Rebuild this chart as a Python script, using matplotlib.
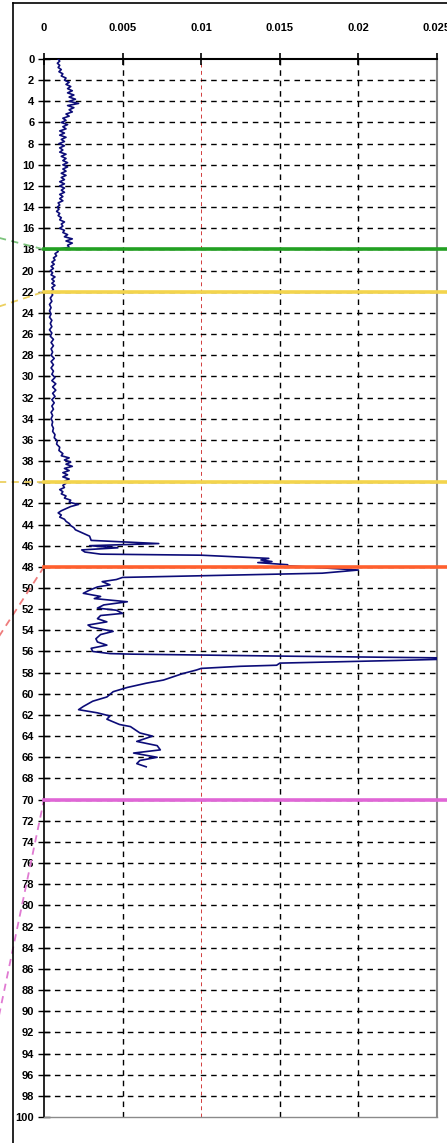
import matplotlib
matplotlib.use("Agg")
import matplotlib.pyplot as plt
from matplotlib.lines import Line2D
from matplotlib.transforms import blended_transform_factory

# depth (y) and value (x, in units of 1e-3) of the log curve
depth = [0.0, 0.2, 0.4, 0.6, 0.8, 1.0, 1.2, 1.4, 1.6, 1.8, 2.0, 2.2, 2.4, 2.6,
         2.8, 3.0, 3.2, 3.4, 3.6, 3.8, 4.0, 4.2, 4.4, 4.6, 4.8, 5.0, 5.2, 5.4,
         5.6, 5.8, 6.0, 6.2, 6.4, 6.6, 6.8, 7.0, 7.2, 7.4, 7.6, 7.8, 8.0, 8.2,
         8.4, 8.6, 8.8, 9.0, 9.2, 9.4, 9.6, 9.8, 10.0, 10.2, 10.4, 10.6, 10.8,
         11.0, 11.2, 11.4, 11.6, 11.8, 12.0, 12.2, 12.4, 12.6, 12.8, 13.0,
         13.2, 13.4, 13.6, 13.8, 14.0, 14.2, 14.4, 14.6, 14.8, 15.0, 15.2,
         15.4, 15.6, 15.8, 16.0, 16.2, 16.4, 16.6, 16.8, 17.0, 17.2, 17.4,
         17.6, 17.8, 18.0, 18.2, 18.4, 18.6, 18.8, 19.0, 19.2, 19.4, 19.6,
         19.8, 20.0, 20.2, 20.4, 20.6, 20.8, 21.0, 21.2, 21.4, 21.6, 21.8,
         22.0, 22.3, 22.6, 22.9, 23.2, 23.5, 23.8, 24.1, 24.4, 24.7, 25.0,
         25.3, 25.6, 25.9, 26.2, 26.5, 26.8, 27.1, 27.4, 27.7, 28.0, 28.3,
         28.6, 28.9, 29.2, 29.5, 29.8, 30.1, 30.4, 30.7, 31.0, 31.3, 31.6,
         31.9, 32.2, 32.5, 32.8, 33.1, 33.4, 33.7, 34.0, 34.3, 34.6, 34.9,
         35.2, 35.5, 35.8, 36.1, 36.4, 36.7, 37.0, 37.3, 37.5, 37.7, 37.9,
         38.1, 38.3, 38.5, 38.7, 38.9, 39.1, 39.3, 39.5, 39.7, 39.9, 40.1,
         40.3, 40.5, 40.7, 40.9, 41.1, 41.3, 41.5, 41.7, 41.9, 42.1, 42.3,
         42.5, 42.7, 42.9, 43.1, 43.3, 43.5, 43.7, 43.9, 44.1, 44.3, 44.5,
         44.7, 44.9, 45.1, 45.5, 45.8, 46.0, 46.2, 46.4, 46.6, 46.8, 46.9,
         47.2, 47.35, 47.5, 47.6, 47.8, 47.9, 48.3, 48.5, 48.6, 49.0, 49.2,
         49.4, 49.7, 49.9, 50.2, 50.5, 50.8, 51.0, 51.3, 51.6, 51.9, 52.1,
         52.4, 52.6, 52.9, 53.2, 53.5, 53.7, 54.1, 54.4, 54.8, 55.1, 55.4,
         55.7, 56.0, 56.2, 56.25, 56.45, 56.6, 56.75, 56.85, 57.1, 57.3, 57.4,
         57.6, 57.75, 58.1, 58.4, 58.7, 59.0, 59.4, 59.8, 60.3, 60.7, 61.2,
         61.5, 61.8, 62.1, 62.4, 62.9, 63.1, 63.7, 64.0, 64.5, 64.9, 65.3,
         65.6, 66.0, 66.3, 66.6, 66.9]
value = [0.9, 1.0, 0.85, 1.0, 0.9, 1.1, 0.95, 1.2, 1.1, 1.4, 1.3, 1.6, 1.4,
         1.7, 1.5, 1.8, 1.5, 1.9, 1.6, 2.0, 1.6, 2.2, 1.5, 1.9, 1.6, 1.8, 1.4,
         1.6, 1.2, 1.4, 1.1, 1.5, 1.2, 1.4, 1.0, 1.3, 1.0, 1.4, 1.1, 1.3,
         0.95, 1.3, 1.0, 1.2, 1.0, 1.4, 1.1, 1.4, 1.2, 1.5, 1.2, 1.5, 1.2,
         1.4, 1.1, 1.4, 1.1, 1.3, 1.0, 1.3, 1.0, 1.3, 1.1, 1.3, 1.0, 1.2, 1.0,
         1.2, 0.9, 1.0, 0.85, 0.95, 0.8, 1.0, 0.9, 1.1, 1.0, 1.3, 1.1, 1.2,
         1.0, 1.3, 1.2, 1.5, 1.3, 1.8, 1.4, 1.8, 1.5, 1.6, 0.8, 0.9, 0.7, 0.8,
         0.6, 0.7, 0.5, 0.65, 0.45, 0.6, 0.4, 0.55, 0.45, 0.7, 0.5, 0.65, 0.5,
         0.7, 0.5, 0.6, 0.45, 0.55, 0.4, 0.5, 0.35, 0.45, 0.35, 0.45, 0.35,
         0.5, 0.4, 0.5, 0.35, 0.5, 0.4, 0.6, 0.45, 0.6, 0.45, 0.55, 0.45,
         0.65, 0.45, 0.6, 0.45, 0.6, 0.5, 0.7, 0.5, 0.75, 0.55, 0.75, 0.55,
         0.7, 0.5, 0.65, 0.5, 0.6, 0.45, 0.55, 0.45, 0.55, 0.5, 0.6, 0.55,
         0.7, 0.65, 0.85, 0.8, 1.0, 0.95, 1.2, 1.1, 1.6, 1.3, 1.7, 1.4, 1.8,
         1.3, 1.6, 1.2, 1.5, 1.2, 1.6, 1.3, 1.4, 1.2, 1.3, 1.0, 1.2, 1.1, 1.4,
         1.3, 1.7, 1.6, 2.2, 1.7, 1.4, 1.1, 0.9, 1.1, 1.0, 1.3, 1.4, 1.6, 1.7,
         1.9, 2.0, 2.3, 2.6, 2.9, 3.0, 7.3, 2.9, 4.7, 2.4, 2.6, 3.6, 10.0,
         14.3, 13.8, 14.5, 13.6, 15.5, 15.5, 20.0, 18.5, 17.7, 5.0, 4.6, 3.7,
         4.2, 3.4, 2.9, 2.5, 3.6, 3.2, 5.3, 3.8, 3.4, 4.6, 5.0, 3.6, 3.4, 4.0,
         2.8, 3.0, 4.4, 3.6, 3.3, 3.4, 4.0, 3.0, 3.1, 4.2, 5.5, 15.8, 25.0,
         25.0, 22.4, 15.0, 14.8, 12.5, 10.0, 9.7, 8.8, 8.2, 7.6, 6.5, 5.3,
         4.4, 4.0, 3.1, 2.5, 2.2, 3.4, 4.2, 4.0, 4.8, 5.5, 6.1, 6.9, 5.9, 7.2,
         7.4, 5.7, 7.2, 6.1, 5.9, 6.5]

x_ticks = [0, 0.005, 0.01, 0.015, 0.02, 0.025]
x_labels = ["0", "0.005", "0.01", "0.015", "0.02", "0.025"]
y_ticks = list(range(0, 101, 2))

# horizontal marker lines (depth, colour)
marker_depths = [18, 22, 40, 48, 70]
marker_colors = ["#22a022", "#f3d44c", "#f3d44c", "#ff5f2e", "#e066d6"]
# dashed connectors going off to the left (depth where they leave the picture)
link_depths = [16.9, 23.4, 40, 54.6, 90.5]
link_colors = ["#7cc47c", "#ecd060", "#ecd060", "#ee7c7c", "#e07ad2"]

W, H = 447, 1143
fig = plt.figure(figsize=(W / 100, H / 100), dpi=100)
ax = fig.add_axes([44 / W, 1 - 1117 / H, (437 - 44) / W, (1117 - 59) / H])

ax.plot([v * 1e-3 for v in value], depth, color="#0c0c78", lw=1.2, zorder=3)

ax.set_xlim(0, 0.025)
ax.set_ylim(100, 0)
ax.xaxis.tick_top()
ax.set_xticks(x_ticks)
ax.set_xticklabels(x_labels)
ax.set_yticks(y_ticks)
ax.set_yticklabels([str(t) for t in y_ticks])

font = dict(family=["Liberation Sans", "DejaVu Sans"], weight="bold", size=8)
for lab in ax.get_xticklabels() + ax.get_yticklabels():
    lab.set_fontproperties(font)
ax.tick_params(axis="x", direction="inout", length=9, width=1.2, pad=14)
ax.tick_params(axis="y", direction="inout", length=8, width=1.0, pad=3)

ax.grid(axis="y", color="black", lw=1.0, linestyle=(0, (4, 3.5)))
ax.grid(axis="x", color="black", lw=1.0, linestyle=(0, (4, 3.5)))
ygl = ax.yaxis.get_gridlines()
ygl[0].set_visible(False)
ygl[-1].set_visible(False)
xgl = ax.xaxis.get_gridlines()
xgl[0].set_visible(False)
xgl[-1].set_visible(False)
xgl[2].set_color("#d23c3c")
xgl[2].set_linewidth(0.7)

ax.spines["top"].set_linewidth(1.5)
ax.spines["left"].set_linewidth(1.2)
ax.spines["right"].set_color("#8a8a8a")
ax.spines["right"].set_linewidth(1.5)
ax.spines["bottom"].set_color("#8a8a8a")
ax.spines["bottom"].set_linewidth(1.0)

for d, c in zip(marker_depths, marker_colors):
    ax.axhline(d, xmin=0, xmax=1.03, color=c, lw=2.6, zorder=4, clip_on=False)

trans = blended_transform_factory(ax.transAxes, ax.transData)
for d0, d1, c in zip(link_depths, marker_depths, link_colors):
    ax.add_line(Line2D([-0.115, 0], [d0, d1], transform=trans, color=c,
                       lw=1.3, linestyle=(0, (4, 3)), clip_on=False))

# outer frame of the surrounding panel
fig.add_artist(Line2D([13 / W, 13 / W], [0, 1 - 3 / H], color="black", lw=1.2))
fig.add_artist(Line2D([13 / W, 1], [1 - 3 / H, 1 - 3 / H], color="black", lw=1.2))

fig.savefig("out.png", dpi=100)
